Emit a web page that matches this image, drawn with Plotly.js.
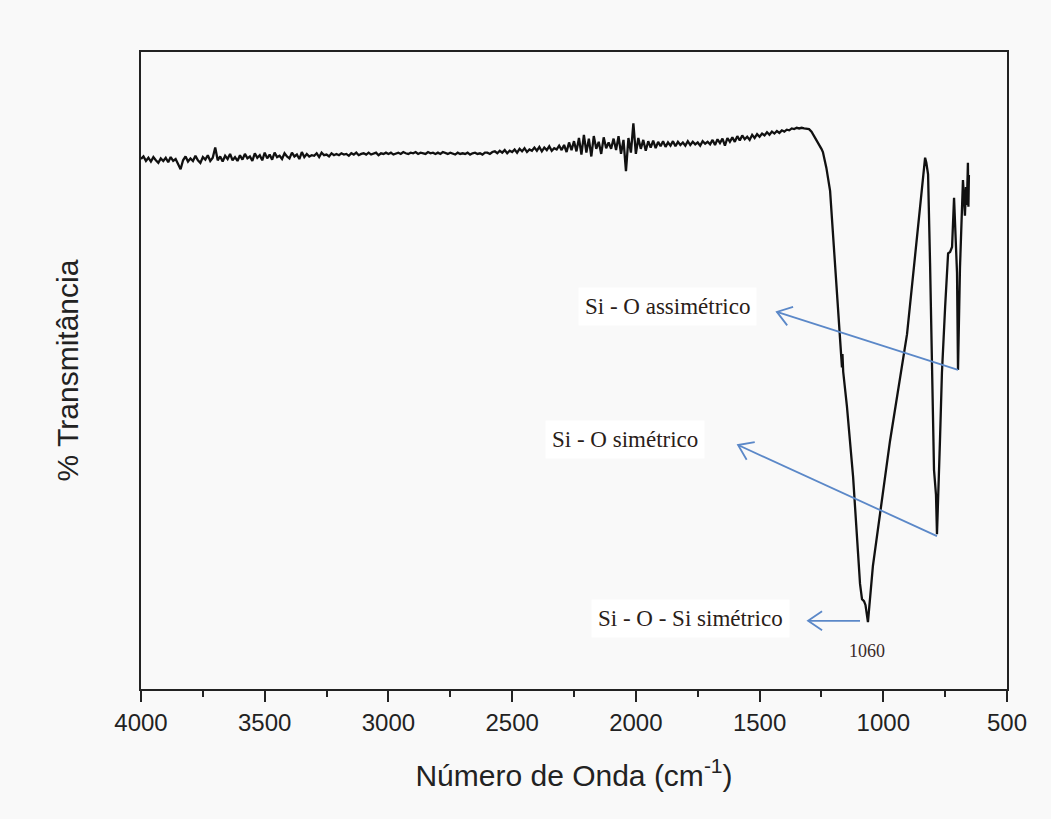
<!DOCTYPE html>
<html>
<head>
<meta charset="utf-8">
<script src="https://cdn.plot.ly/plotly-3.0.1.min.js"></script>
<style>html,body{margin:0;padding:0;background:#f9f9f9;}#chart{width:1051px;height:819px;}</style>
</head>
<body>
<div id="chart"></div>
<script>
// Baseline region, 4000 -> 1310 cm-1, every 10 cm-1
const baseStart = 4000, baseStep = 10;
const baselineT = [
  83.2, 83.6, 82.9, 83.4, 82.8, 83.5, 83.0, 82.6, 83.3, 82.9,
  83.4, 82.7, 83.5, 82.9, 83.2, 82.4, 81.6, 83.0, 83.6, 82.8,
  83.3, 82.9, 83.7, 83.0, 82.6, 83.5, 83.1, 83.8, 82.9, 83.4,
  85.0, 83.0, 83.6, 82.8, 83.7, 83.2, 84.0, 83.0, 83.5, 82.9,
  83.8, 83.1, 84.0, 83.3, 83.6, 82.9, 84.1, 83.4, 83.8, 83.0,
  84.2, 83.3, 83.9, 83.1, 84.2, 83.5, 83.7, 83.2, 84.1, 83.6,
  83.3, 84.2, 83.6, 83.9, 83.2, 84.3, 83.5, 84.0, 83.6, 83.8,
  83.7, 84.1, 83.5, 84.2, 83.8, 83.9, 83.6, 84.1, 83.8, 84.0,
  83.8, 84.1, 83.9, 84.0, 83.7, 84.1, 83.9, 84.2, 83.8, 84.0,
  84.1, 83.9, 84.2, 83.9, 84.0, 84.2, 83.8, 84.1, 84.0, 84.2,
  84.0, 84.2, 83.9, 84.1, 84.2, 84.0, 84.3, 84.1, 84.0, 84.2,
  84.1, 84.3, 84.0, 84.2, 84.1, 84.0, 84.3, 84.1, 84.2, 84.0,
  84.2, 84.0, 84.3, 84.1, 84.0, 84.2, 84.1, 83.9, 84.2, 84.0,
  84.1, 84.0, 84.2, 83.9, 84.1, 84.2, 84.0, 84.1, 83.9, 84.2,
  84.2, 84.0, 84.3, 84.4, 84.1, 84.5, 84.2, 84.6, 84.1, 84.5,
  84.3, 84.7, 84.2, 84.8, 84.4, 84.9, 84.3, 84.7, 84.5, 85.0,
  84.5, 85.1, 84.4, 85.0, 84.6, 85.2, 84.5, 84.9, 84.7, 85.3,
  84.6, 85.4, 84.3, 85.8, 84.6, 86.0, 84.4, 86.5, 83.9, 87.0,
  84.2, 86.4, 83.6, 86.8, 84.8, 85.9, 84.0, 86.6, 84.9, 85.8,
  84.8, 86.4, 84.6, 86.8, 84.0, 86.2, 81.3, 86.5, 84.2, 88.8,
  84.0, 86.5, 84.8, 86.2, 84.5, 86.0, 85.0, 86.1, 84.9, 85.9,
  85.2, 86.0, 85.1, 85.8, 85.3, 86.0, 85.2, 85.9, 85.4, 85.8,
  85.3, 86.0, 85.4, 85.9, 85.5, 85.8, 85.3, 86.0, 85.6, 85.9,
  85.5, 86.2, 85.4, 86.3, 85.7, 86.4, 85.3, 86.5, 85.9, 86.6,
  85.9, 86.8, 86.1, 86.9, 86.3, 86.7, 86.2, 87.0, 86.5, 87.1,
  86.7, 87.2, 86.9, 87.4, 87.0, 87.5, 87.2, 87.6, 87.3, 87.7,
  87.5, 87.8, 87.7, 88.0, 87.9, 88.1, 88.0, 88.1, 88.0, 88.0
];
// Si-O band region
const bandWavenumber = [1300, 1290, 1284, 1270, 1260, 1250, 1244, 1230, 1215, 1195, 1175, 1170, 1167, 1165, 1162, 1147, 1122, 1094, 1086, 1078, 1072, 1062, 1042, 973, 904, 852, 838, 831, 826, 819, 811, 803, 800, 799, 797, 795, 787, 783, 771, 763, 750, 738, 730, 722, 714, 708, 702, 698, 694, 690, 678, 674, 670, 666, 662, 658, 656, 654];
const bandT = [87.9, 87.5, 87.1, 86.3, 85.5, 84.8, 84.3, 81.8, 78.2, 66.9, 55.7, 53.5, 50.5, 52.6, 49.8, 44.4, 33.3, 16.5, 14.1, 13.8, 13.2, 10.5, 19.3, 38.9, 55.7, 75.4, 81.2, 83.4, 82.6, 80.8, 66.9, 50.1, 43.0, 38.3, 40.0, 34.4, 30.5, 24.3, 38.9, 49.6, 60.0, 68.4, 68.6, 69.4, 77.1, 72.0, 65.3, 50.1, 58.0, 66.2, 79.9, 75.7, 74.3, 78.8, 76.0, 82.6, 75.7, 80.7];

const xTickVals = [4000, 3500, 3000, 2500, 2000, 1500, 1000, 500];
const xTickText = ['4000', '3500', '3000', '2500', '2000', '1500', '1000', '500'];

// annotations: [label, x, y]
const labelTexts = ['Si - O assimétrico', 'Si - O simétrico', 'Si - O - Si simétrico'];
const labelX = [1874, 2042, 1781];
const labelY = [60.0, 39.2, 11.1];
// arrows: tail (on band) -> head (near label)
const arrowTailX = [698, 783, 1094];
const arrowTailY = [50.1, 24.0, 10.7];
const arrowHeadX = [1430, 1587, 1304];
const arrowHeadY = [59.2, 38.3, 10.7];
const arrowWing = ['M16.2,5.0 L0,0 L10.3,-13.5', 'M16.7,3.0 L0,0 L8.6,-14.7', 'M14,9.5 L0,0 L14,-9.5'];
const peakLabel = '1060';
const peakLabelX = 1066, peakLabelY = 5.9;

const wn = [], tr = [];
baselineT.forEach((v, i) => { wn.push(baseStart - i * baseStep); tr.push(v); });
bandWavenumber.forEach((w, i) => { wn.push(w); tr.push(bandT[i]); });

const arrowColor = '#5b88c8';
const shapes = [];
const annotations = [];
labelTexts.forEach((t, i) => {
  annotations.push({
    x: labelX[i], y: labelY[i], xref: 'x', yref: 'y', text: t, showarrow: false,
    font: {family: 'Liberation Serif, Times New Roman, serif', size: 23, color: '#2a2018'},
    bgcolor: '#ffffff', borderpad: 6
  });
  shapes.push({type: 'line', xref: 'x', yref: 'y', x0: arrowTailX[i], y0: arrowTailY[i], x1: arrowHeadX[i], y1: arrowHeadY[i],
    line: {color: arrowColor, width: 1.8}});
  shapes.push({type: 'path', xref: 'x', yref: 'y', xsizemode: 'pixel', ysizemode: 'pixel',
    xanchor: arrowHeadX[i], yanchor: arrowHeadY[i], path: arrowWing[i],
    line: {color: arrowColor, width: 1.8}});
});
annotations.push({x: peakLabelX, y: peakLabelY, xref: 'x', yref: 'y', text: peakLabel, showarrow: false,
  font: {family: 'Liberation Serif, Times New Roman, serif', size: 18, color: '#3a2a2a'}});

const trace = {x: wn, y: tr, type: 'scatter', mode: 'lines', line: {color: '#111111', width: 2.3}, hoverinfo: 'skip'};

const layout = {
  width: 1051, height: 819,
  margin: {l: 141, r: 44, t: 52, b: 130},
  paper_bgcolor: '#f9f9f9', plot_bgcolor: '#f9f9f9',
  showlegend: false,
  font: {family: 'Liberation Sans, Arial, sans-serif', color: '#222'},
  xaxis: {
    range: [4000, 500], tickvals: xTickVals, ticktext: xTickText,
    ticks: 'outside', ticklen: 11, tickwidth: 2, tickcolor: '#222',
    minor: {dtick: 250, tick0: 0, ticks: 'outside', ticklen: 6, tickwidth: 2, tickcolor: '#222', showgrid: false},
    showline: true, linewidth: 2, linecolor: '#222', mirror: true,
    showgrid: false, zeroline: false,
    tickfont: {size: 24, color: '#222'},
    title: {text: 'Número de Onda (cm<sup>-1</sup>)', font: {size: 30, color: '#222'}, standoff: 30}
  },
  yaxis: {
    range: [0, 100], showticklabels: false, ticks: '',
    showline: true, linewidth: 2, linecolor: '#222', mirror: true,
    showgrid: false, zeroline: false,
    title: {text: '% Transmitância', font: {size: 30, color: '#222'}, standoff: 52}
  },
  shapes: shapes,
  annotations: annotations
};

Plotly.newPlot('chart', [trace], layout, {displayModeBar: false, staticPlot: true});
</script>
</body>
</html>
